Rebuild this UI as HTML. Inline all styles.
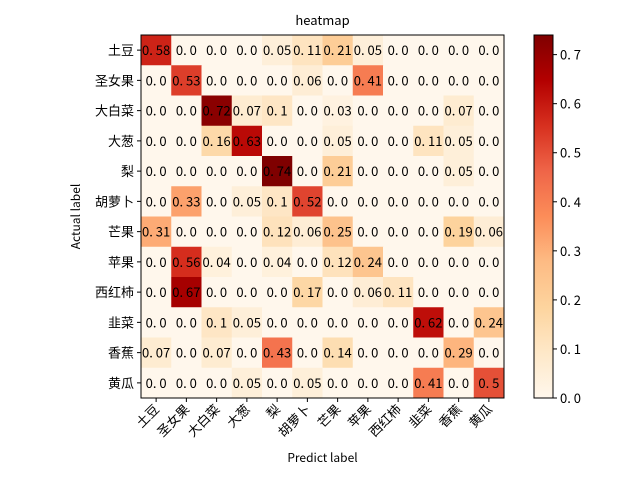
<!DOCTYPE html>
<html><head><meta charset="utf-8"><style>
body{margin:0;background:#fff;}
svg text{font-family:"WenQuanYi Zen Hei","Noto Sans CJK SC",sans-serif;}
</style></head><body>
<svg id="chart" width="640" height="480" xmlns="http://www.w3.org/2000/svg">
<defs><linearGradient id="cbg" x1="0" y1="1" x2="0" y2="0">
<stop offset="0" stop-color="#fff7ec"/><stop offset="0.125" stop-color="#fee8c8"/><stop offset="0.25" stop-color="#fdd49e"/><stop offset="0.375" stop-color="#fdbb84"/><stop offset="0.5" stop-color="#fc8d59"/><stop offset="0.625" stop-color="#ef6548"/><stop offset="0.75" stop-color="#d7301f"/><stop offset="0.875" stop-color="#b30000"/><stop offset="1" stop-color="#7f0000"/>
</linearGradient></defs>
</svg>
<script>
const labels=["土豆","圣女果","大白菜","大葱","梨","胡萝卜","芒果","苹果","西红柿","韭菜","香蕉","黄瓜"];
const row0=[0.58,0,0,0,0.05,0.11,0.21,0.05,0,0,0,0];
const row1=[0,0.53,0,0,0,0.06,0,0.41,0,0,0,0];
const row2=[0,0,0.72,0.07,0.1,0,0.03,0,0,0,0.07,0];
const row3=[0,0,0.16,0.63,0,0,0.05,0,0,0.11,0.05,0];
const row4=[0,0,0,0,0.74,0,0.21,0,0,0,0.05,0];
const row5=[0,0.33,0,0.05,0.1,0.52,0,0,0,0,0,0];
const row6=[0.31,0,0,0,0.12,0.06,0.25,0,0,0,0.19,0.06];
const row7=[0,0.56,0.04,0,0.04,0,0.12,0.24,0,0,0,0];
const row8=[0,0.67,0,0,0,0.17,0,0.06,0.11,0,0,0];
const row9=[0,0,0.1,0.05,0,0,0,0,0,0.62,0,0.24];
const row10=[0.07,0,0.07,0,0.43,0,0.14,0,0,0,0.29,0];
const row11=[0,0,0,0.05,0,0.05,0,0,0,0.41,0,0.5];
const rows=[row0,row1,row2,row3,row4,row5,row6,row7,row8,row9,row10,row11];
const cbTicks=[0,0.1,0.2,0.3,0.4,0.5,0.6,0.7];

const svg=document.getElementById('chart');
const NS="http://www.w3.org/2000/svg";
const L=141,T=35,W=363,H=363,n=labels.length,cw=W/n,ch=H/n;
const vmax=Math.max(...rows.flat());
const stops=["#fff7ec","#fee8c8","#fdd49e","#fdbb84","#fc8d59","#ef6548","#d7301f","#b30000","#7f0000"];
function hex(h){return [1,3,5].map(i=>parseInt(h.substr(i,2),16));}
function color(v){let t=Math.max(0,Math.min(1,v/vmax))*(stops.length-1);let i=Math.min(Math.floor(t),stops.length-2),f=t-i;
 const a=hex(stops[i]),b=hex(stops[i+1]);return "rgb("+a.map((x,k)=>Math.round(x+(b[k]-x)*f)).join(",")+")";}
function el(tag,attrs,txt){const e=document.createElementNS(NS,tag);for(const k in attrs)e.setAttribute(k,attrs[k]);if(txt!==undefined)e.textContent=txt;svg.appendChild(e);return e;}
const xs=i=>L+i*cw, ys=i=>T+i*ch;
function fmt(v){return (v===0?"0.0":String(v)).replace(".",". ");}
rows.forEach((r,i)=>r.forEach((v,j)=>{
 const c=el('rect',{x:xs(j),y:ys(i),width:cw+0.5,height:ch+0.5,fill:color(v)});
 
 
 const t=el('text',{x:xs(j)+cw/2,y:ys(i)+ch/2+5,'text-anchor':'middle','font-size':13,fill:'#000'},fmt(v));
 
 
}));
const frame=el('rect',{x:L,y:T,width:W,height:H,fill:'none',stroke:'#000','stroke-width':1});


labels.forEach((lab,i)=>{
 el('line',{x1:L,x2:L-4,y1:ys(i)+ch/2,y2:ys(i)+ch/2,stroke:'#000'});
 const yl=el('text',{x:L-7,y:ys(i)+ch/2+5,'text-anchor':'end','font-size':13},lab);
 
 
 const cx=xs(i)+cw/2;
 el('line',{x1:cx,x2:cx,y1:T+H,y2:T+H+4,stroke:'#000'});
 const xl=el('text',{x:cx+4,y:T+H+12,'text-anchor':'end','font-size':13,transform:'rotate(-45 '+(cx+4)+' '+(T+H+12)+')'},lab);
 
 
});
const title=el('text',{x:L+W/2,y:25,'text-anchor':'middle','font-size':13},'heatmap');


const xt=el('text',{x:L+W/2,y:462,'text-anchor':'middle','font-size':12},'Predict label');


const yt=el('text',{x:80,y:T+H/2,'text-anchor':'middle','font-size':12,transform:'rotate(-90 80 '+(T+H/2)+')'},'Actual label');


const CX=534,CW=19,CT=35,CH=363;
const cb=el('rect',{x:CX,y:CT,width:CW,height:CH,fill:'url(#cbg)',stroke:'#000','stroke-width':1});


cbTicks.forEach(v=>{const y=CT+CH-v/vmax*CH;
 el('line',{x1:CX+CW,x2:CX+CW+4,y1:y,y2:y,stroke:'#000'});
 const t=el('text',{x:CX+CW+7,y:y+5,'font-size':13},v.toFixed(1).replace(".",". "));
 
 
});
</script>
</body></html>
